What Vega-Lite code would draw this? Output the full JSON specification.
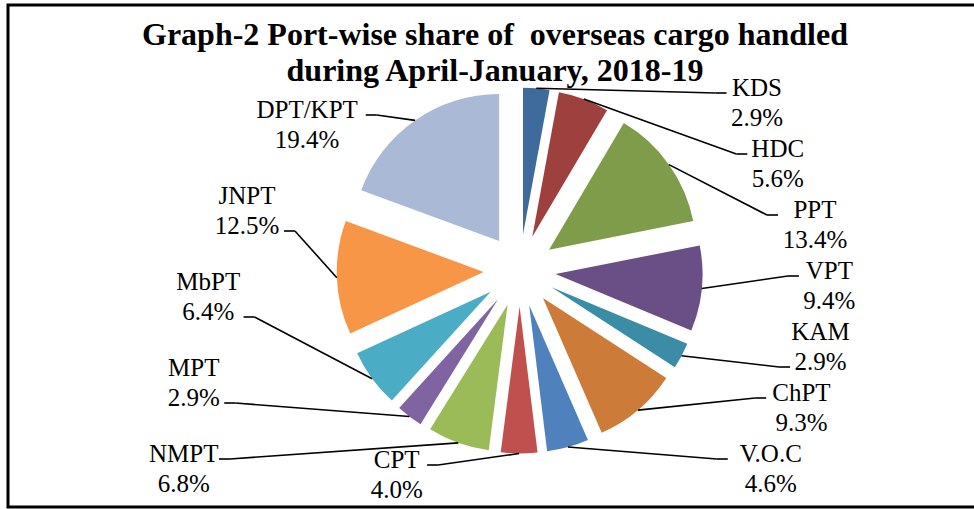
{
  "$schema": "https://vega.github.io/schema/vega-lite/v6.json",
  "width": 974,
  "height": 509,
  "autosize": {"type": "fit", "contains": "padding"},
  "padding": {"left": 8, "top": 5, "right": -8, "bottom": 2},
  "background": "white",
  "config": {
    "view": {"stroke": "black", "strokeWidth": 3},
    "font": "Liberation Serif"
  },
  "title": {
    "text": ["Graph-2 Port-wise share of\u00a0 overseas cargo handled", "during April-January, 2018-19"],
    "font": "Liberation Serif",
    "fontSize": 32,
    "fontWeight": "bold",
    "color": "black",
    "lineHeight": 36,
    "anchor": "middle",
    "frame": "group",
    "baseline": "top",
    "offset": -83
  },
  "data": {
    "values": [
      {"port": "KDS", "share": 0.029, "order": 1},
      {"port": "HDC", "share": 0.056, "order": 2},
      {"port": "PPT", "share": 0.134, "order": 3},
      {"port": "VPT", "share": 0.094, "order": 4},
      {"port": "KAM", "share": 0.029, "order": 5},
      {"port": "ChPT", "share": 0.093, "order": 6},
      {"port": "V.O.C", "share": 0.046, "order": 7},
      {"port": "CPT", "share": 0.040, "order": 8},
      {"port": "NMPT", "share": 0.068, "order": 9},
      {"port": "MPT", "share": 0.029, "order": 10},
      {"port": "MbPT", "share": 0.064, "order": 11},
      {"port": "JNPT", "share": 0.125, "order": 12},
      {"port": "DPT/KPT", "share": 0.194, "order": 13}
    ]
  },
  "transform": [
    {"joinaggregate": [{"op": "sum", "field": "share", "as": "total"}]},
    {"stack": "share", "groupby": [], "sort": [{"field": "order", "order": "ascending"}], "as": ["s0", "s1"]}
  ],
  "layer": [
    {
      "mark": {
        "type": "arc",
        "radius": 147,
        "x": {"expr": "width/2+24.7+36*sin(PI*(datum.s0+datum.s1)/datum.total)"},
        "y": {"expr": "height/2+14.5-36*cos(PI*(datum.s0+datum.s1)/datum.total)"}
      },
      "encoding": {
        "theta": {"field": "s0", "type": "quantitative", "scale": {"domain": [0, 1.001], "nice": false, "zero": true}},
        "theta2": {"field": "s1"},
        "color": {
          "field": "port",
          "type": "nominal",
          "scale": {
            "domain": ["KDS", "HDC", "PPT", "VPT", "KAM", "ChPT", "V.O.C", "CPT", "NMPT", "MPT", "MbPT", "JNPT", "DPT/KPT"],
            "range": ["#3F6A9C", "#9E413E", "#7F9C4A", "#6A4F86", "#3B8CA5", "#CC7B38", "#4F81BD", "#C0504D", "#9BBB59", "#8064A2", "#4BACC6", "#F79646", "#A9B9D6"]
          },
          "legend": null
        }
      }
    },
    {
      "mark": {"type": "rule", "color": "black", "strokeWidth": 1.6},
      "encoding": {
        "x": {"value": {"expr": "width/2+24.7+183*sin(PI*(datum.s0+datum.s1)/datum.total)"}},
        "y": {"value": {"expr": "height/2+14.5-183*cos(PI*(datum.s0+datum.s1)/datum.total)"}},
        "x2": {"value": {"expr": "width/2+24.7+(sin(PI*(datum.s0+datum.s1)/datum.total)>=0?1:-1)*((sin(PI*(datum.s0+datum.s1)/datum.total)>=0?230+80*abs(sin(PI*(datum.s0+datum.s1)/datum.total)):(abs(sin(PI*(datum.s0+datum.s1)/datum.total))<0.05?123:270-70*cos(PI*(datum.s0+datum.s1)/datum.total)))-(max(7.8*length(datum.port),6.6*length(format(datum.share,'.1%')))+4)-11)"}},
        "y2": {"value": {"expr": "height/2+14.5+(-183*cos(PI*(datum.s0+datum.s1)/datum.total)>(datum.order<=7?-174.5+(datum.order-1)*61:min(197.5,191.5-(datum.order-9)*86))+14?(datum.order<=7?-174.5+(datum.order-1)*61:min(197.5,191.5-(datum.order-9)*86))+27:(datum.order<=7?-174.5+(datum.order-1)*61:min(197.5,191.5-(datum.order-9)*86))-3)"}}
      }
    },
    {
      "mark": {"type": "rule", "color": "black", "strokeWidth": 1.6},
      "encoding": {
        "x": {"value": {"expr": "width/2+24.7+(sin(PI*(datum.s0+datum.s1)/datum.total)>=0?1:-1)*((sin(PI*(datum.s0+datum.s1)/datum.total)>=0?230+80*abs(sin(PI*(datum.s0+datum.s1)/datum.total)):(abs(sin(PI*(datum.s0+datum.s1)/datum.total))<0.05?123:270-70*cos(PI*(datum.s0+datum.s1)/datum.total)))-(max(7.8*length(datum.port),6.6*length(format(datum.share,'.1%')))+4)-11)"}},
        "x2": {"value": {"expr": "width/2+24.7+(sin(PI*(datum.s0+datum.s1)/datum.total)>=0?1:-1)*((sin(PI*(datum.s0+datum.s1)/datum.total)>=0?230+80*abs(sin(PI*(datum.s0+datum.s1)/datum.total)):(abs(sin(PI*(datum.s0+datum.s1)/datum.total))<0.05?123:270-70*cos(PI*(datum.s0+datum.s1)/datum.total)))-(max(7.8*length(datum.port),6.6*length(format(datum.share,'.1%')))+4))"}},
        "y": {"value": {"expr": "height/2+14.5+(-183*cos(PI*(datum.s0+datum.s1)/datum.total)>(datum.order<=7?-174.5+(datum.order-1)*61:min(197.5,191.5-(datum.order-9)*86))+14?(datum.order<=7?-174.5+(datum.order-1)*61:min(197.5,191.5-(datum.order-9)*86))+27:(datum.order<=7?-174.5+(datum.order-1)*61:min(197.5,191.5-(datum.order-9)*86))-3)"}},
        "y2": {"value": {"expr": "height/2+14.5+(-183*cos(PI*(datum.s0+datum.s1)/datum.total)>(datum.order<=7?-174.5+(datum.order-1)*61:min(197.5,191.5-(datum.order-9)*86))+14?(datum.order<=7?-174.5+(datum.order-1)*61:min(197.5,191.5-(datum.order-9)*86))+27:(datum.order<=7?-174.5+(datum.order-1)*61:min(197.5,191.5-(datum.order-9)*86))-3)"}}
      }
    },
    {
      "mark": {
        "type": "text",
        "font": "Liberation Serif",
        "fontSize": 25,
        "color": "black",
        "align": "center",
        "baseline": "alphabetic",
        "x": {"expr": "width/2+24.7+(sin(PI*(datum.s0+datum.s1)/datum.total)>=0?1:-1)*(sin(PI*(datum.s0+datum.s1)/datum.total)>=0?230+80*abs(sin(PI*(datum.s0+datum.s1)/datum.total)):(abs(sin(PI*(datum.s0+datum.s1)/datum.total))<0.05?123:270-70*cos(PI*(datum.s0+datum.s1)/datum.total)))"},
        "y": {"expr": "height/2+14.5+(datum.order<=7?-174.5+(datum.order-1)*61:min(197.5,191.5-(datum.order-9)*86))"}
      },
      "encoding": {
        "text": {"field": "port", "type": "nominal"}
      }
    },
    {
      "mark": {
        "type": "text",
        "font": "Liberation Serif",
        "fontSize": 25,
        "color": "black",
        "align": "center",
        "baseline": "alphabetic",
        "dy": 30,
        "x": {"expr": "width/2+24.7+(sin(PI*(datum.s0+datum.s1)/datum.total)>=0?1:-1)*(sin(PI*(datum.s0+datum.s1)/datum.total)>=0?230+80*abs(sin(PI*(datum.s0+datum.s1)/datum.total)):(abs(sin(PI*(datum.s0+datum.s1)/datum.total))<0.05?123:270-70*cos(PI*(datum.s0+datum.s1)/datum.total)))"},
        "y": {"expr": "height/2+14.5+(datum.order<=7?-174.5+(datum.order-1)*61:min(197.5,191.5-(datum.order-9)*86))"}
      },
      "encoding": {
        "text": {"field": "share", "type": "quantitative", "format": ".1%"}
      }
    }
  ]
}
